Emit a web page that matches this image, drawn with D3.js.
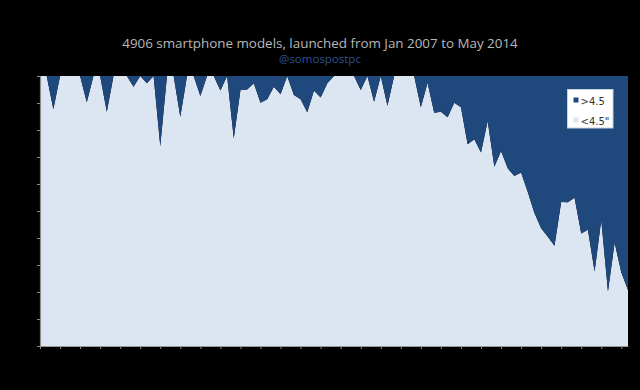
<!DOCTYPE html>
<html>
<head>
<meta charset="utf-8">
<script src="https://cdn.jsdelivr.net/npm/d3@7"></script>
<style>
  html, body { margin: 0; padding: 0; background: #000; }
  svg { display: block; }
</style>
</head>
<body>
<svg id="chart" width="640" height="390"></svg>
<script>
// ---- Data (share of models launched each month, %) ----
const startMonth = new Date(2007, 0, 1);
const endMonth = new Date(2014, 4, 1);
const months = d3.timeMonth.range(startMonth, d3.timeMonth.offset(endMonth, 1)); // Jan 2007 .. May 2014
const seriesKeys = ["<4.5\"", ">4.5"];
const smallScreen = [100,100,87.7,100,100,100,100,90.3,100,100,
  86.8,100,100,100,96,100,97.3,100,74.1,100,
  100,84.9,100,100,92.6,100,100,94.6,100,76.9,
  94.8,95,97.3,90.1,91.4,96,93.2,100,93,91.4,
  86.6,94.6,92,97.3,100,100,100,100,94.8,100,
  90.5,100,89,100,100,100,100,88.4,97.5,86.4,
  86.8,84.7,90.1,88.4,74.7,76.6,71.7,83.3,66.4,72.2,
  65.8,63,64.3,57,49.3,43.6,40.5,37.1,53.3,53.2,
  54.9,41.7,43.1,27.6,46.7,20.2,38.3,27.2,20.7];
const largeScreen = [0,0,12.3,0,0,0,0,9.7,0,0,
  13.2,0,0,0,4,0,2.7,0,25.9,0,
  0,15.1,0,0,7.4,0,0,5.4,0,23.1,
  5.2,5,2.7,9.9,8.6,4,6.8,0,7,8.6,
  13.4,5.4,8,2.7,0,0,0,0,5.2,0,
  9.5,0,11,0,0,0,0,11.6,2.5,13.6,
  13.2,15.3,9.9,11.6,25.3,23.4,28.3,16.7,33.6,27.8,
  34.2,37,35.7,43,50.7,56.4,59.5,62.9,46.7,46.8,
  45.1,58.3,56.9,72.4,53.3,79.8,61.7,72.8,79.3];
const yTicks = [0,10,20,30,40,50,60,70,80,90,100];
const titleText = "4906 smartphone models, launched from Jan 2007 to May 2014";
const subtitleText = "@somospostpc";
const legendLabels = [">4.5", "<4.5\""];

// ---- Layout ----
const W = 640, H = 390;
const margin = { left: 40, right: 12, top: 76, bottom: 44 };
const colors = { "<4.5\"": "#dce6f2", ">4.5": "#1f497d" };

const svg = d3.select("#chart");

const table = months.map((m, i) => ({ month: m, "<4.5\"": smallScreen[i], ">4.5": largeScreen[i] }));

// evenly spaced months (index-based) for marks
const xi = d3.scaleLinear().domain([0, months.length - 1]).range([margin.left, W - margin.right]);
const y = d3.scaleLinear().domain([0, 100]).range([H - margin.bottom, margin.top]);

const stack = d3.stack().keys(seriesKeys);
const layers = stack(table);

const area = d3.area()
  .x((d, i) => xi(i))
  .y0(d => y(d[0]))
  .y1(d => y(Math.min(100, d[1])));

svg.append("g").selectAll("path")
  .data(layers)
  .join("path")
  .attr("d", area)
  .attr("fill", d => colors[d.key]);

// Axes
const yAxis = d3.axisLeft(y).tickValues(yTicks).tickSize(3).tickFormat("");
const gy = svg.append("g").attr("transform", `translate(${margin.left},0)`).call(yAxis);
gy.select(".domain").attr("stroke", "#8c8c8c").attr("stroke-width", 1.2);
gy.selectAll(".tick line").attr("stroke", "#8c8c8c");

const xTickIdx = d3.range(0, months.length, 3);
const xAxis = d3.axisBottom(xi).tickValues(xTickIdx).tickSize(3).tickSizeOuter(0).tickFormat("");
const gx = svg.append("g").attr("transform", `translate(0,${H - margin.bottom})`).call(xAxis);
gx.select(".domain").attr("stroke", "#9a9a9a").attr("stroke-width", 1.2);
gx.selectAll(".tick line").attr("stroke", "#8c8c8c");

// Titles
svg.append("text")
  .attr("x", 320).attr("y", 48)
  .attr("text-anchor", "middle")
  .attr("font-family", "Open Sans, sans-serif")
  .attr("font-size", 13.4)
  .attr("fill", "#b8b8b8")
  .text(titleText);
svg.append("text")
  .attr("x", 320).attr("y", 63)
  .attr("text-anchor", "middle")
  .attr("font-family", "Open Sans, sans-serif")
  .attr("font-size", 11.5)
  .attr("fill", "#2a5290")
  .text(subtitleText);

// Legend
const lg = svg.append("g");
lg.append("rect")
  .attr("x", 567.5).attr("y", 89.5).attr("width", 45.5).attr("height", 38.5)
  .attr("fill", "#ffffff").attr("stroke", "#c8d0da").attr("stroke-width", 1);
const legendKeys = [">4.5", "<4.5\""];
legendKeys.forEach((k, i) => {
  lg.append("rect")
    .attr("x", 573.5).attr("y", 97.5 + i * 20).attr("width", 5).attr("height", 5)
    .attr("fill", colors[k]);
  lg.append("text")
    .attr("x", 580.5).attr("y", 105 + i * 20)
    .attr("font-family", "DejaVu Sans, sans-serif")
    .attr("font-size", 10)
    .attr("fill", "#333")
    .text(legendLabels[i]);
});
</script>
</body>
</html>
